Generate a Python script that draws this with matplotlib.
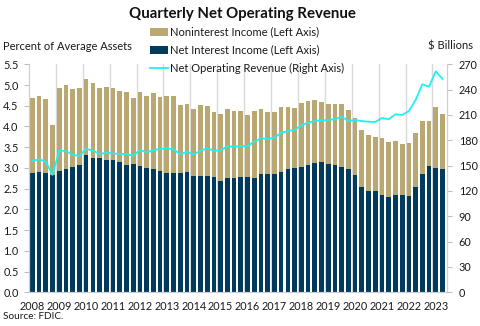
import numpy as np
import matplotlib
matplotlib.use("Agg")
import matplotlib.pyplot as plt
from matplotlib.lines import Line2D
from matplotlib.patches import Patch

plt.rcParams['font.family'] = ['Lato', 'DejaVu Sans']

years = list(range(2008, 2024))

# percent of average assets, 2008Q1 .. 2023Q2
net_interest = [2.87, 2.89, 2.87, 2.82, 2.92, 2.97, 3.02, 3.06,
                3.30, 3.25, 3.23, 3.19, 3.18, 3.14, 3.08, 3.09,
                3.05, 3.01, 2.98, 2.93, 2.87, 2.87, 2.88, 2.90,
                2.81, 2.81, 2.81, 2.77, 2.69, 2.75, 2.76, 2.78,
                2.78, 2.76, 2.85, 2.85, 2.86, 2.90, 2.97, 3.00,
                3.02, 3.06, 3.11, 3.14, 3.09, 3.06, 3.03, 2.97,
                2.82, 2.54, 2.44, 2.44, 2.34, 2.29, 2.34, 2.34,
                2.32, 2.54, 2.85, 3.05, 3.00, 2.97]
noninterest = [1.82, 1.84, 1.79, 1.21, 2.00, 2.03, 1.88, 1.88,
               1.85, 1.80, 1.70, 1.77, 1.74, 1.72, 1.74, 1.59,
               1.78, 1.73, 1.82, 1.79, 1.86, 1.86, 1.63, 1.65,
               1.62, 1.70, 1.68, 1.57, 1.61, 1.66, 1.61, 1.59,
               1.50, 1.61, 1.56, 1.49, 1.48, 1.57, 1.49, 1.44,
               1.54, 1.55, 1.52, 1.45, 1.46, 1.47, 1.51, 1.43,
               1.39, 1.37, 1.36, 1.31, 1.37, 1.34, 1.32, 1.23,
               1.29, 1.30, 1.29, 1.08, 1.46, 1.33]
# $ billions
net_operating_revenue = [155.5, 157.5, 154.7, 139.0, 167.7, 167.3, 162.6, 161.4,
                         170.0, 167.7, 163.8, 165.3, 164.6, 163.8, 163.8, 161.6,
                         168.5, 165.8, 168.5, 169.7, 170.5, 169.3, 163.4, 166.5,
                         163.4, 167.7, 170.5, 167.7, 168.0, 172.9, 172.5, 173.2,
                         173.2, 178.4, 182.3, 181.5, 183.1, 189.0, 191.0, 192.2,
                         197.7, 200.9, 202.8, 203.7, 204.0, 205.2, 208.0, 202.8,
                         204.0, 202.8, 202.0, 201.7, 206.4, 204.9, 210.8, 210.0,
                         214.7, 227.7, 246.3, 243.5, 261.7, 252.6]

TAN = '#b9a871'
NAVY = '#003a5d'
CYAN = '#1ff0f5'
GRID = '#d9d9d9'
INK = '#1a1a1a'

x = np.arange(len(net_interest))

fig = plt.figure(figsize=(4.8, 3.26), dpi=100)
ax = fig.add_axes([0.0604, 0.1034, 0.8706, 0.6994])

ax.bar(x, net_interest, width=0.7, color=NAVY, zorder=2)
ax.bar(x, noninterest, width=0.7, bottom=net_interest, color=TAN, zorder=2)

ax.set_xlim(-0.5, len(x) - 0.35)
ax.set_ylim(0, 5.5)
ax.set_yticks(np.arange(0, 5.51, 0.5))
ax.set_yticklabels([f'{v:.1f}' for v in np.arange(0, 5.51, 0.5)])
ax.set_xticks(np.arange(0, len(x), 4))
ax.set_xticklabels([str(y) for y in years])
ax.set_xticks(np.arange(3.5, len(x), 4), minor=True)
ax.grid(which='minor', axis='x', color=GRID, linewidth=1.0, zorder=0)
ax.set_axisbelow(True)
ax.tick_params(axis='x', which='both', length=0, labelsize=7.8, pad=6, labelcolor=INK)
ax.tick_params(axis='y', length=3.5, width=0.8, color='#bfbfbf', labelcolor=INK,
               labelsize=7.8, pad=4)

ax2 = ax.twinx()
ax2.plot(x, net_operating_revenue, color=CYAN, linewidth=1.3, zorder=3)
ax2.set_ylim(0, 270)
ax2.set_yticks(np.arange(0, 271, 30))
ax2.tick_params(axis='y', length=3.5, width=0.8, color='#bfbfbf', labelcolor=INK,
                labelsize=7.8, pad=5)

for a in (ax, ax2):
    a.spines['top'].set_visible(False)
    for side in ('left', 'right', 'bottom'):
        a.spines[side].set_color('#cfcfcf')
        a.spines[side].set_linewidth(0.8)

fig.text(0.505, 0.957, 'Quarterly Net Operating Revenue', ha='center', va='center',
         fontsize=10.8, fontweight='bold', color='#111111')
fig.text(0.006, 0.858, 'Percent of Average Assets', ha='left', va='center',
         fontsize=8, color=INK)
fig.text(0.986, 0.858, '$ Billions', ha='right', va='center',
         fontsize=8, color=INK)
fig.text(0.006, 0.028, 'Source: FDIC.', ha='left', va='center',
         fontsize=7.2, color=INK)

handles = [Patch(facecolor=TAN, edgecolor='none'),
           Patch(facecolor=NAVY, edgecolor='none'),
           Line2D([0], [0], color=CYAN, linewidth=1.3)]
labels = ['Noninterest Income (Left Axis)',
          'Net Interest Income (Left Axis)',
          'Net Operating Revenue (Right Axis)']
fig.legend(handles, labels, loc='upper left', bbox_to_anchor=(0.312, 0.918),
           frameon=False, fontsize=8, handlelength=1.6, handleheight=0.8,
           handletextpad=0.2, labelspacing=0.62, borderaxespad=0, borderpad=0,
           labelcolor=INK)

fig.savefig('out.png', dpi=100)
